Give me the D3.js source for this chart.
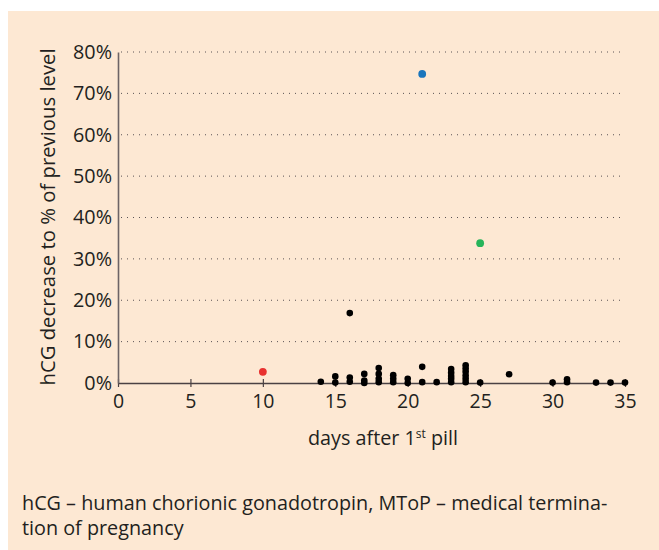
<!DOCTYPE html>
<html>
<head>
<meta charset="utf-8">
<script src="https://cdn.jsdelivr.net/npm/d3@7"></script>
<style>
  body { margin: 0; background: #fff; }
  svg text { font-family: "Open Sans", sans-serif; fill: #231f20; }
</style>
</head>
<body>
<svg id="chart" width="659" height="550"></svg>
<script>
// days after first pill, and hCG decrease (% of previous level)
var days   = [14, 15, 15, 16, 16, 16, 17, 17, 17, 18, 18, 18, 18, 19, 19, 19, 20, 20, 21, 21, 22,
              23, 23, 23, 23, 23, 24, 24, 24, 24, 24, 24, 25, 27, 30, 31, 31, 33, 34, 35];
var values = [0.3, 1.6, 0.1, 16.9, 1.3, 0.3, 2.2, 0.6, 0.0, 3.6, 2.2, 1.0, 0.2, 1.9, 1.0, 0.2, 1.0, 0.0, 3.9, 0.2, 0.2,
              3.4, 2.5, 1.7, 1.0, 0.2, 4.3, 3.5, 2.7, 1.8, 1.0, 0.2, 0.1, 2.1, 0.1, 0.9, 0.2, 0.1, 0.1, 0.1];

// highlighted cases
var specialDays   = [10, 21, 25];
var specialValues = [2.7, 74.7, 33.8];
var specialColors = ["#e8312f", "#1a75bc", "#27b45a"];

var xTicks = [0, 5, 10, 15, 20, 25, 30, 35];
var yTicks = [0, 10, 20, 30, 40, 50, 60, 70, 80];

var svg = d3.select("#chart");

svg.append("rect")
    .attr("x", 8).attr("y", 11)
    .attr("width", 651).attr("height", 539)
    .attr("fill", "#fde8d3");

var margin = { top: 52, right: 34, bottom: 167, left: 118 };
var width = 659, height = 550;

var x = d3.scaleLinear()
    .domain([0, 35])
    .range([margin.left, width - margin.right]);

var y = d3.scaleLinear()
    .domain([0, 80])
    .range([height - margin.bottom, margin.top]);

// dotted grid lines
svg.append("g")
    .selectAll("line")
    .data(yTicks.slice(1))
    .join("line")
    .attr("x1", x(0) + 3)
    .attr("x2", x(35))
    .attr("y1", function (d) { return y(d); })
    .attr("y2", function (d) { return y(d); })
    .attr("stroke", "#5a5254")
    .attr("stroke-width", 1)
    .attr("stroke-dasharray", "1,5");

// x axis
var xAxis = svg.append("g")
    .attr("transform", "translate(0," + y(0) + ")")
    .call(d3.axisBottom(x).tickValues(xTicks).tickSize(4).tickSizeOuter(0).tickPadding(7));
xAxis.select(".domain").attr("stroke", "#4a4143").attr("stroke-width", 1.6);
xAxis.selectAll(".tick line").attr("stroke", "#4a4143").attr("y1", -4).attr("stroke-width", 1.2);
xAxis.selectAll(".tick text").style("font-size", "19.5px").attr("fill", "#1a1718");

// y axis
var yAxis = svg.append("g")
    .attr("transform", "translate(" + x(0) + ",0)")
    .call(d3.axisLeft(y).tickValues(yTicks).tickSize(0).tickPadding(6)
        .tickFormat(function (d) { return d + "%"; }));
yAxis.select(".domain").attr("stroke", "#6d6466").attr("stroke-width", 1.6);
yAxis.selectAll(".tick text").style("font-size", "19.8px").attr("fill", "#1a1718");

// axis titles
var xt = svg.append("text")
    .attr("x", 383)
    .attr("y", 445)
    .attr("text-anchor", "middle")
    .style("font-size", "19.8px");
xt.append("tspan").text("days after 1");
xt.append("tspan").style("font-size", "12px").attr("dy", -7).text("st");
xt.append("tspan").attr("dy", 7).text(" pill");

svg.append("text")
    .attr("transform", "translate(55,217) rotate(-90)")
    .attr("text-anchor", "middle")
    .style("font-size", "20.3px")
    .text("hCG decrease to % of previous level");

// points
svg.append("g")
    .selectAll("circle")
    .data(days)
    .join("circle")
    .attr("cx", function (d) { return x(d); })
    .attr("cy", function (d, i) { return y(values[i]); })
    .attr("r", 3.3)
    .attr("fill", "#000");

svg.append("g")
    .selectAll("circle")
    .data(specialDays)
    .join("circle")
    .attr("cx", function (d) { return x(d); })
    .attr("cy", function (d, i) { return y(specialValues[i]); })
    .attr("r", 3.9)
    .attr("fill", function (d, i) { return specialColors[i]; });

// footnote
var note = svg.append("text")
    .style("font-size", "19.8px");
note.append("tspan").attr("x", 22).attr("y", 510)
    .text("hCG – human chorionic gonadotropin, MToP – medical termina-");
note.append("tspan").attr("x", 22).attr("y", 535)
    .text("tion of pregnancy");
</script>
</body>
</html>
